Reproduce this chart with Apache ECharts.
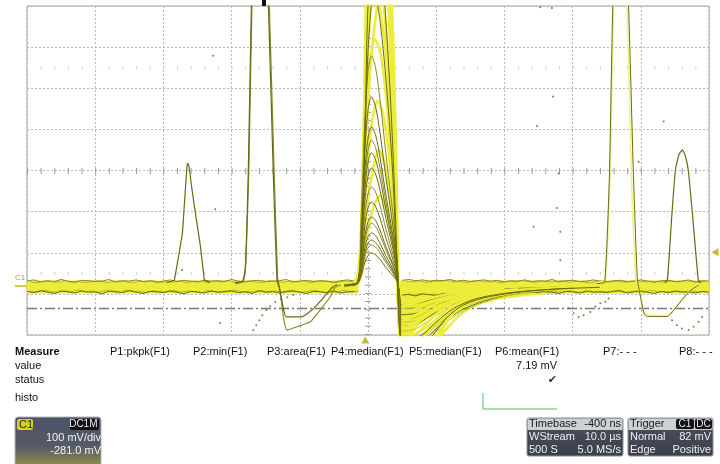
<!DOCTYPE html>
<html>
<head>
<meta charset="utf-8">
<script src="https://cdn.jsdelivr.net/npm/echarts@6/dist/echarts.min.js"></script>
<style>
  html, body { margin: 0; padding: 0; background: #ffffff; }
  #scope { width: 720px; height: 464px; }
</style>
</head>
<body>
<div id="scope"></div>
<script>
// ---- acquisition settings ----
const timePerDivUs = 10;
const voltsPerDivMv = 100;
const offsetMv = -281;
const triggerLevelMv = 82;
const triggerDelayUs = -0.4;
const cursorLevelMv = -53;

// ---- baseline noise (null = no baseline during the trigger pulse) ----
const noiseStartUs = -50;
const noiseStepUs = 1;
const baselineTop = [
  12, 15, 10, 13, 11, 16, 12, 9, 14, 13,
  11, 12, 16, 10, 13, 12, 15, 11, 13, 9,
  12, 15, 11, 14, 12, 10, 14, 12, 13, 11,
  16, 12, 10, 13, 14, 11, 12, 13, 16, 10,
  12, 14, 11, 13, 12, 9, 13, 15, 12,
  null, null, null, null, null, null,
  14, 16, 13, 15, 12, 14, 13, 16, 12, 14,
  11, 13, 15, 12, 14, 10, 13, 12, 15, 11,
  13, 12, 16, 10, 13, 14, 11, 12, 15, 12,
  10, 13, 14, 11, 12, 15, 12, 9, 13, 14,
  11, 12, 15, 10, 13, 12
];
const baselineBottom = [
  -13, -16, -11, -15, -18, -12, -14, -17, -12, -15,
  -14, -19, -12, -13, -16, -11, -15, -18, -13, -14,
  -16, -12, -15, -19, -13, -14, -17, -12, -15, -13,
  -12, -16, -14, -18, -11, -15, -13, -17, -14, -12,
  -15, -18, -13, -14, -16, -12, -17, -14, -13,
  null, null, null, null, null, null,
  -22, -20, -24, -19, -21, -23, -18, -20, -22, -17,
  -19, -16, -18, -15, -17, -14, -16, -18, -13, -15,
  -16, -12, -15, -18, -13, -14, -17, -12, -15, -14,
  -16, -13, -11, -17, -14, -12, -15, -18, -13, -16,
  -12, -15, -14, -17, -13, -15
];
// second sweep, sampled half a step later
const noiseStart2Us = -49.5;
const baselineTop2 = [
  10, 8, 12, 11, 9, 13, 10, 12, 8, 11,
  13, 9, 10, 12, 11, 8, 12, 10, 13, 9,
  11, 10, 13, 8, 12, 11, 9, 12, 10, 14,
  9, 11, 12, 10, 8, 13, 11, 9, 12, 10,
  13, 8, 11, 12, 10, 9, 12, 11, 10,
  null, null, null, null, null, null,
  12, 10, 13, 9, 11, 12, 14, 10, 11, 9,
  12, 13, 10, 11, 8, 12, 10, 13, 11, 9,
  12, 10, 11, 13, 9, 12, 10, 8, 11, 13,
  10, 12, 9, 11, 13, 10, 12, 11, 9, 12,
  10, 13, 11, 9, 12
];
const baselineBottom2 = [
  -12, -15, -10, -13, -16, -11, -14, -9, -13, -12,
  -15, -11, -14, -17, -10, -13, -12, -16, -11, -14,
  -13, -10, -15, -12, -14, -17, -11, -13, -16, -12,
  -10, -14, -13, -15, -11, -16, -12, -14, -10, -13,
  -15, -12, -11, -16, -13, -14, -10, -15, -12,
  null, null, null, null, null, null,
  -20, -23, -18, -21, -19, -22, -17, -19, -21, -16,
  -18, -15, -17, -14, -16, -18, -13, -15, -17, -12,
  -14, -16, -13, -15, -11, -14, -16, -12, -15, -13,
  -14, -11, -16, -13, -12, -15, -10, -14, -13, -16,
  -12, -14, -11, -15, -13
];
const baselineLevel = [[-50, -2], [-1.4, -2]];
const baselineLevelAfter = [[4.7, -2], [50, -2]];

// ---- persistence fill of the undershoot after the trigger pulse ----
const fillTimes = [4.4, 4.6, 4.8, 5.5, 6.5, 7.5, 8.5, 9.5, 11, 13, 15, 18, 22, 26, 30, 34];
const fillLower = [0, -60, -135, -135, -120, -92, -68, -52, -44, -36, -30, -25, -20, -17, -15, -13];
const fillUpper = [5, 3, 2, 4, 5, 5, 6, 6, 6, 7, 7, 7, 8, 8, 8, 8];

// ---- trigger pulse family: small arches (shared sample times, µs) ----
const archTimes = [-3.5, -1.6, -1.0, -0.5, 0.0, 0.5, 1.1, 1.8, 2.6, 3.4, 4.0, 4.4, 4.8, 7, 10, 14, 20, 28];
const archSplitIndex = 12; // from here on the sweep is in its undershoot
const archValues = [
  [2, 6, 24, 56, 74, 80, 76, 64, 46, 30, 18, 4, -45, -43, -29, -16, -7, -3],
  [1, 5, 30, 70, 93, 100, 95, 80, 58, 38, 22, 5, -55, -52, -36, -19, -8, -2],
  [3, 7, 34, 78, 104, 112, 106, 90, 65, 43, 25, 6, -60, -57, -39, -21, -9, -3],
  [0, 6, 39, 90, 120, 129, 123, 103, 75, 49, 28, 6, -70, -66, -45, -24, -10, -4],
  [2, 8, 46, 107, 142, 153, 145, 122, 89, 58, 34, 8, -80, -76, -52, -28, -12, -3],
  [1, 5, 50, 118, 156, 168, 160, 134, 97, 64, 37, 8, -88, -84, -57, -31, -13, -4],
  [3, 7, 61, 143, 190, 204, 194, 163, 118, 78, 45, 10, -98, -93, -64, -34, -15, -5],
  [2, 6, 72, 169, 224, 241, 229, 193, 140, 92, 53, 12, -110, -104, -71, -38, -16, -5],
  [1, 8, 86, 201, 267, 287, 273, 230, 166, 109, 63, 14, -125, -119, -81, -44, -19, -6],
  [3, 6, 97, 227, 301, 324, 308, 259, 188, 123, 71, 16, -135, -128, -88, -47, -20, -6],
  [2, 7, 107, 249, 330, 355, 337, 284, 206, 135, 78, 18, -145, -138, -94, -51, -22, -7],
  [1, 5, 116, 271, 360, 387, 368, 310, 224, 147, 85, 19, -150, -142, -97, -52, -22, -7],
  [3, 8, 138, 322, 428, 460, 437, 368, 267, 175, 101, 23, -160, -152, -104, -56, -24, -8],
  [2, 6, 168, 392, 521, 560, 532, 448, 325, 213, 123, 28, -170, -161, -110, -60, -25, -8]
];

// ---- trigger pulse family: the frequent (bright) pulses ----
const pulseYellow = [
  [[-4, 2], [-2.2, 6], [-1.4, 40], [-0.9, 200], [-0.5, 500], [-0.2, 760], [0.8, 1300], [2.2, 1250], [3.0, 900], [3.7, 600], [4.2, 250], [4.5, -40], [4.9, -190], [7, -200], [9, -170], [10.5, -120], [12, -75], [14, -45], [17, -25], [22, -12], [30, -4]],
  [[-4, 0], [-2.0, 5], [-1.2, 60], [-0.7, 300], [-0.3, 650], [0.4, 1000], [2.0, 1050], [3.2, 700], [3.8, 350], [4.3, 20], [4.7, -150], [5.2, -175], [7.5, -170], [9.5, -135], [11, -95], [13, -60], [16, -35], [20, -18], [28, -6]],
  [[-4, 3], [-1.8, 8], [-1.0, 110], [-0.5, 380], [-0.1, 690], [1.0, 880], [2.4, 820], [3.4, 520], [3.9, 260], [4.3, 30], [4.7, -130], [5.3, -150], [7, -140], [9, -100], [11, -65], [14, -38], [18, -20], [25, -8]],
  [[-4, -2], [-1.9, 4], [-1.1, 80], [-0.6, 310], [-0.1, 620], [0.9, 760], [2.2, 700], [3.3, 430], [3.9, 190], [4.35, 0], [4.7, -110], [5.4, -125], [7.5, -110], [9.5, -75], [12, -45], [15, -28], [20, -14], [28, -5]],
  [[-4, 1], [-1.7, 6], [-0.9, 120], [-0.4, 420], [0.4, 680], [1.2, 700], [2.4, 600], [3.4, 380], [4.0, 150], [4.4, -10], [4.8, -95], [6, -100], [8, -80], [10, -55], [13, -33], [17, -20], [24, -8]],
  [[-4, 1], [-1.8, 6], [-1.0, 90], [-0.5, 300], [0.2, 520], [1.0, 600], [1.8, 570], [2.6, 470], [3.3, 330], [3.9, 170], [4.3, 20], [4.7, -90], [5.5, -100], [8, -75], [11, -45], [15, -25], [22, -10], [30, -3]],
  [[-4, 2], [-1.7, 5], [-0.9, 80], [-0.3, 260], [0.6, 400], [1.4, 450], [2.2, 420], [3.0, 330], [3.7, 200], [4.2, 60], [4.6, -70], [5.5, -80], [8, -60], [11, -36], [15, -20], [22, -8]],
  [[-4, 0], [-1.6, 5], [-0.8, 60], [-0.2, 190], [0.8, 290], [1.6, 330], [2.4, 300], [3.2, 220], [3.8, 130], [4.3, 30], [4.7, -55], [6, -60], [9, -40], [13, -22], [20, -9]],
  [[-4, 1], [-1.6, 5], [-0.7, 50], [0.0, 140], [1.0, 200], [1.8, 220], [2.6, 190], [3.4, 130], [4.0, 70], [4.4, 10], [4.8, -40], [6, -45], [9, -30], [13, -16], [20, -6]],
  [[-4, 0], [-1.8, 5], [-1.0, 100], [-0.4, 330], [0.5, 560], [1.5, 700], [2.5, 780], [3.3, 620], [3.9, 330], [4.3, 60], [4.7, -120], [5.4, -140], [7.5, -130], [10, -90], [13, -52], [17, -28], [24, -10]]
];
const pulseOlive = [
  [[-3, 4], [-1.5, 10], [-0.8, 150], [-0.4, 400], [0, 680], [1.0, 900], [2.0, 780], [2.8, 600], [3.4, 420], [3.9, 230], [4.3, 40], [4.7, -120], [5.3, -160], [7.5, -155], [9.5, -120], [11.5, -78], [14, -46], [18, -25], [25, -10], [34, -3]],
  [[-3, 2], [-1.6, 8], [-1.0, 90], [-0.5, 330], [0.1, 600], [0.9, 720], [1.8, 640], [2.8, 470], [3.6, 280], [4.2, 60], [4.6, -100], [5.2, -135], [7.5, -125], [10, -88], [12.5, -55], [16, -30], [22, -14], [30, -5]]
];
// recovery tails after the trigger pulse
const recoveryTails = [
  [[4.6, -20], [6, -40], [9, -35], [13, -28], [18, -22], [25, -16], [35, -12], [50, -10]],
  [[4.6, -50], [6, -70], [9, -55], [12, -42], [16, -30], [22, -20], [30, -14], [40, -10]],
  [[4.7, -90], [6, -105], [8, -85], [10, -60], [13, -40], [17, -26], [24, -15], [32, -9]],
  [[4.8, -140], [6.5, -150], [8.5, -130], [10.5, -95], [12.5, -62], [15, -40], [19, -25], [26, -14]],
  [[4.8, -160], [7, -165], [9.5, -140], [11.5, -105], [13.5, -70], [16, -45], [20, -28], [28, -14]],
  [[4.6, 0], [5.5, -15], [8, -12], [12, -8], [20, -5]]
];

// ---- isolated events ----
const eventSmallLeft = [[-29.5, 8], [-28.4, 14], [-27.8, 70], [-27.2, 130], [-26.8, 230], [-26.55, 290], [-26.45, 299], [-26.25, 292], [-25.8, 234], [-25.2, 165], [-24.6, 100], [-24.0, 15], [-23.2, 8]];
const eventTallA = [[-19.5, 8], [-18.4, 12], [-18.0, 40], [-17.55, 281], [-17.1, 681], [-16.0, 1300], [-14.6, 681], [-13.9, 281], [-13.35, 15], [-13.0, -5], [-12.4, -55], [-12.0, -75], [-9.7, -75], [-8.0, -55], [-6.0, -18], [-5.2, -3], [-4.5, 4]];
const eventTallB = [[-19.5, 6], [-18.3, 10], [-17.9, 60], [-17.45, 300], [-17.0, 700], [-15.9, 1350], [-14.5, 700], [-13.8, 300], [-13.25, 20], [-12.9, -10], [-12.37, -79], [-11.88, -107], [-10.4, -99], [-8.46, -87], [-7.0, -58], [-5.53, -26], [-4.9, -5], [-4.0, 3]];
const eventRightPale = [[33.5, 8], [34.8, 15], [35.5, 281], [36.0, 681], [37.0, 1000], [38.0, 681], [38.6, 281], [39.3, 15], [39.9, -20], [40.4, -60], [40.8, -70], [44.0, -72], [45.1, -52], [46.1, -34], [47.3, -8], [48.5, 5]];
const eventRightOlive = [[33.5, 6], [34.7, 10], [35.4, 270], [35.9, 681], [37.0, 1050], [38.2, 681], [38.9, 281], [39.5, 15], [40.0, -30], [40.5, -68], [41.0, -74], [43.9, -74], [45.0, -55], [46.2, -30], [47.3, -10], [48.5, 3]];
const eventSmallRight = [[43.5, 8], [43.9, 15], [44.5, 160], [45.06, 281], [45.6, 320], [46.1, 331], [46.5, 318], [46.97, 281], [47.6, 170], [48.43, 15], [48.8, 8]];
const strayDots = [
  [-16.82, -107], [-16.38, -95], [-15.94, -83], [-15.5, -71], [-14.91, -58], [-14.33, -49], [-13.59, -39],
  [-12.71, -32], [-11.83, -27], [-10.95, -22], [-21.66, -90], [-27.27, 39], [-22.4, 187], [-22.7, 560],
  [28.2, 132], [24.28, 144], [28.2, 63], [27.7, 190], [43.35, 400], [24.78, 389], [27.13, 461],
  [25.26, 678], [26.97, 676], [39.68, 302], [27.95, 274],
  [29.41, -54], [30.15, -66], [30.88, -75], [31.61, -71], [32.6, -63], [33.33, -50], [34.07, -42], [34.8, -38], [35.28, -30],
  [44.58, -83], [45.31, -95], [46.04, -103], [47.01, -107], [47.74, -99], [48.48, -87], [48.97, -75]
];

// ---- measurement / status panel text ----
const measureNames = ['P1:pkpk(F1)', 'P2:min(F1)', 'P3:area(F1)', 'P4:median(F1)', 'P5:median(F1)', 'P6:mean(F1)', 'P7:- - -', 'P8:- - -'];
const measureValues = ['', '', '', '', '', '7.19 mV', '', ''];
const measureStatus = ['', '', '', '', '', '\u2714', '', ''];
const rowLabels = ['value', 'status'];
const channelInfo = ['C1', 'DC1M', '100 mV/div', '-281.0 mV'];
const timebaseInfo = [['Timebase', '-400 ns'], ['WStream', '10.0 \u00b5s'], ['500 S', '5.0 MS/s']];
const triggerInfo = [['Trigger', ''], ['Normal', '82 mV'], ['Edge', 'Positive']];
const triggerBadges = ['C1', 'DC'];

// ---- colours ----
const YELLOW = '#ecec3a';
const OLIVE = '#6a6a12';
const OLIVE_L = '#8a8a26';
const OLIVE_Y = '#b2b22c';
const PALE = '#f2f27e';
const FONT = '"Liberation Sans", Arial, sans-serif';

const yMin = -offsetMv - voltsPerDivMv * 4;
const yMax = -offsetMv + voltsPerDivMv * 4;
const xHalf = timePerDivUs * 5;

function toPairs(values, start) {
  return values.map((v, i) => [start + i * noiseStepUs, v]);
}
function splitOnNull(pairs) {
  const parts = [];
  let cur = [];
  pairs.forEach(p => {
    if (p[1] === null) { if (cur.length) parts.push(cur); cur = []; }
    else cur.push(p);
  });
  if (cur.length) parts.push(cur);
  return parts;
}
function trace(data, color, width, z, smooth) {
  return {
    type: 'line', data: data, xAxisIndex: 0, yAxisIndex: 0,
    symbol: 'none', showSymbol: false, silent: true, clip: true,
    smooth: smooth === undefined ? 0.3 : smooth,
    lineStyle: { color: color, width: width }, itemStyle: { color: color },
    z: z, animation: false
  };
}

const series = [];

// graticule decorations: centre crosshair ticks, ±2.5 div tick rows, cursor level
series.push({
  type: 'line', data: [], xAxisIndex: 0, yAxisIndex: 1, silent: true, z: 1,
  markLine: {
    silent: true, symbol: 'none', animation: false, label: { show: false },
    data: [
      { yAxis: 0, lineStyle: { color: '#9a9a9a', width: 6, type: [1, 12.64] } },
      { xAxis: 0, lineStyle: { color: '#9a9a9a', width: 6, type: [1, 7.225] } },
      { yAxis: 2.5, lineStyle: { color: '#cfcfcf', width: 3, type: [1, 12.64] } },
      { yAxis: -2.5, lineStyle: { color: '#cfcfcf', width: 3, type: [1, 12.64] } }
    ]
  }
});
series.push({
  type: 'line', data: [], xAxisIndex: 0, yAxisIndex: 0, silent: true, z: 2,
  markLine: {
    silent: true, symbol: 'none', animation: false, label: { show: false },
    data: [{ yAxis: cursorLevelMv, lineStyle: { color: '#7a7a7a', width: 1.3, type: [10, 3, 2, 3] } }]
  },
  markPoint: {
    silent: true, animation: false, label: { show: false },
    data: [
      { coord: [xHalf, triggerLevelMv], symbol: 'triangle', symbolSize: [8, 7], symbolRotate: 90, symbolOffset: [6, 0], itemStyle: { color: '#c4bc2c' } },
      { coord: [triggerDelayUs, yMin], symbol: 'triangle', symbolSize: [8, 7], symbolOffset: [0, 5], itemStyle: { color: '#c4bc2c' } }
    ]
  }
});

// undershoot persistence fill: polygon between the upper and lower envelopes
series.push({
  type: 'custom', coordinateSystem: 'cartesian2d', xAxisIndex: 0, yAxisIndex: 0,
  data: [[fillTimes[0], fillUpper[0]]], clip: true, silent: true, z: 3, animation: false,
  renderItem: function (params, api) {
    const pts = [];
    fillTimes.forEach((t, i) => pts.push(api.coord([t, fillUpper[i]])));
    for (let i = fillTimes.length - 1; i >= 0; i--) pts.push(api.coord([fillTimes[i], fillLower[i]]));
    return { type: 'polygon', shape: { points: pts, smooth: 0.15 }, style: { fill: YELLOW } };
  }
});

// baseline band
series.push(trace(baselineLevel, YELLOW, 13, 3, false));
series.push(trace(baselineLevelAfter, YELLOW, 13, 3, false));
recoveryTails.forEach(d => series.push(trace(d, YELLOW, 2.6, 4)));
splitOnNull(toPairs(baselineTop2, noiseStart2Us)).forEach(d => series.push(trace(d, OLIVE_Y, 0.9, 5, false)));
splitOnNull(toPairs(baselineBottom2, noiseStart2Us)).forEach(d => series.push(trace(d, OLIVE_Y, 0.9, 5, false)));
splitOnNull(toPairs(baselineTop, noiseStartUs)).forEach(d => series.push(trace(d, OLIVE_L, 1, 5, false)));
splitOnNull(toPairs(baselineBottom, noiseStartUs)).forEach(d => series.push(trace(d, OLIVE, 1, 5, false)));

// trigger pulse family
pulseYellow.forEach(d => series.push(trace(d, YELLOW, 2.6, 6)));
archValues.forEach((vals, i) => {
  const pts = archTimes.map((t, k) => [t, vals[k]]);
  // the pulse itself, then its undershoot (mostly hidden in the bright persistence)
  series.push(trace(pts.slice(0, archSplitIndex + 1), i % 3 === 1 ? OLIVE_L : OLIVE, 1, 7));
  series.push(trace(pts.slice(archSplitIndex), i % 3 === 0 ? OLIVE : '#c8c832', 1, 5));
});
pulseOlive.forEach(d => series.push(trace(d, OLIVE, 1, 7)));

// isolated events
series.push(trace(eventSmallLeft, OLIVE, 1.2, 8, false));
series.push(trace(eventTallB, OLIVE_L, 1.2, 8, 0.15));
series.push(trace(eventTallA, OLIVE, 1.2, 8, 0.15));
series.push(trace(eventRightPale, PALE, 1.6, 8, 0.15));
series.push(trace(eventRightOlive, OLIVE, 1, 8, 0.15));
series.push(trace(eventSmallRight, OLIVE, 1.2, 8, 0.15));
series.push({
  type: 'scatter', data: strayDots, xAxisIndex: 0, yAxisIndex: 0, silent: true,
  symbolSize: 2, itemStyle: { color: '#5e5e18' }, z: 8, animation: false
});

const chart = echarts.init(document.getElementById('scope'), null, { renderer: 'canvas' });
chart.setOption({
  animation: false,
  backgroundColor: '#ffffff',
  grid: { left: 27, top: 6, right: 11, bottom: 129, show: true, borderColor: '#a4a4a4', borderWidth: 1, backgroundColor: 'transparent' },
  xAxis: [{
    type: 'value', min: -xHalf, max: xHalf, interval: timePerDivUs,
    axisLabel: { show: false }, axisTick: { show: false }, axisLine: { show: false },
    splitLine: { show: true, lineStyle: { color: '#b8b8b8', width: 1, type: [2, 2] } }
  }],
  yAxis: [{
    type: 'value', min: yMin, max: yMax, show: false
  }, {
    type: 'value', min: -4, max: 4, interval: 1,
    axisLabel: { show: false }, axisTick: { show: false }, axisLine: { show: false },
    splitLine: { show: true, lineStyle: { color: '#b8b8b8', width: 1, type: [2, 2] } }
  }],
  series: series
});

// ---- overlay: ground marker and the lower status panel ----
const groundY = chart.convertToPixel({ yAxisIndex: 0 }, 0);
const g = [];
function txt(text, x, y, opts) {
  opts = opts || {};
  g.push({
    type: 'text', x: x, y: y, silent: true, z: 100,
    style: {
      text: text, fill: opts.fill || '#111111',
      font: (opts.weight || '') + ' ' + (opts.size || 11) + 'px ' + (opts.family || FONT),
      textAlign: opts.align || 'left', textVerticalAlign: 'middle'
    }
  });
}
function rect(x, y, w, h, fill, stroke, r) {
  g.push({
    type: 'rect', silent: true, z: 99,
    shape: { x: x, y: y, width: w, height: h, r: r || 0 },
    style: { fill: fill, stroke: stroke || null, lineWidth: stroke ? 1 : 0 }
  });
}
function seg(x1, y1, x2, y2, color, w) {
  g.push({ type: 'line', silent: true, z: 100, shape: { x1: x1, y1: y1, x2: x2, y2: y2 }, style: { stroke: color, lineWidth: w || 1 } });
}

// ground marker
txt('C1', 15, groundY - 8, { fill: '#a8a22a', size: 8 });
seg(15, groundY, 27, groundY, '#d4ce2a', 2);
// header fragment above the graticule
rect(262, 0, 4, 6, '#111111');

// measurement table
txt('Measure', 15, 352, { weight: 'bold' });
rowLabels.forEach((r, i) => txt(r, 15, 366 + i * 14));
txt('histo', 15, 398);
const measureX = [110, 193, 267, 331, 409, 495, 603, 679];
measureNames.forEach((n, i) => txt(n, measureX[i], 352));
measureValues.forEach((v, i) => { if (v) txt(v, 557, 366, { align: 'right' }); });
measureStatus.forEach((s, i) => { if (s) txt(s, 557, 380, { align: 'right', fill: '#333333', size: 11, family: '"DejaVu Sans", sans-serif' }); });
seg(483, 393, 483, 409, '#5cbf5c', 1);
seg(483, 409, 557, 409, '#5cbf5c', 1);

// channel descriptor
rect(15, 417, 86, 52, {
  type: 'linear', x: 0, y: 0, x2: 0, y2: 1,
  colorStops: [{ offset: 0, color: '#4b5367' }, { offset: 0.55, color: '#545a66' }, { offset: 1, color: '#9c9446' }]
}, '#b4b4b4', 3);
rect(17, 419, 16, 11, '#d6cf1e', null, 2);
txt(channelInfo[0], 19, 424.5, { fill: '#2a2a10' });
rect(70, 419, 29, 11, '#111111', null, 2);
txt(channelInfo[1], 97.5, 424.5, { fill: '#eeeeee', size: 10, align: 'right' });
txt(channelInfo[2], 101, 437.5, { fill: '#f2f2f2', align: 'right' });
txt(channelInfo[3], 101, 451, { fill: '#f2f2f2', align: 'right' });

// timebase and trigger descriptors
function infoBox(x, w, rows) {
  rect(x, 418, w, 38, {
    type: 'linear', x: 0, y: 0, x2: 0, y2: 1,
    colorStops: [{ offset: 0, color: '#4c5260' }, { offset: 1, color: '#3a3f4a' }]
  }, '#8c9096', 2);
  rect(x + 0.5, 418.5, w - 1, 11.5, '#cdd0d4');
  rows.forEach((r, i) => {
    const y = 424 + i * 13.2;
    const col = i === 0 ? '#1a1a1a' : '#eeeeee';
    txt(r[0], x + 2, y, { fill: col });
    if (r[1]) txt(r[1], x + w - 2, y, { fill: col, align: 'right' });
  });
}
infoBox(527, 96, timebaseInfo);
infoBox(628, 85, triggerInfo);
rect(676, 419, 18, 10, '#111111', null, 2);
txt(triggerBadges[0], 685, 424, { fill: '#eeeeee', size: 10, align: 'center' });
rect(695, 419, 17, 10, '#111111', null, 2);
txt(triggerBadges[1], 703.5, 424, { fill: '#eeeeee', size: 10, align: 'center' });

chart.setOption({ graphic: g });
</script>
</body>
</html>
